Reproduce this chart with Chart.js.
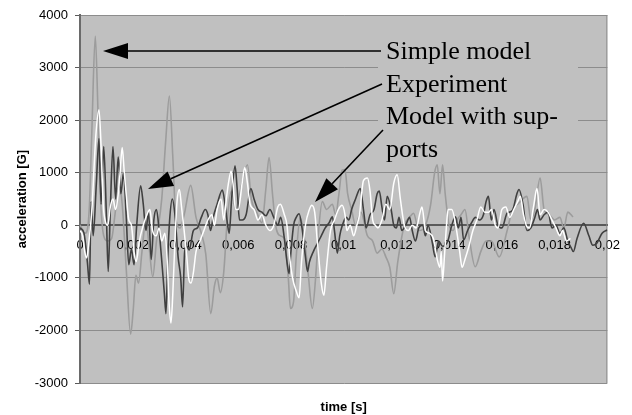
<!DOCTYPE html>
<html>
<head>
<meta charset="utf-8">
<script src="https://cdn.jsdelivr.net/npm/chart.js@4"></script>
<style>
    html, body { margin: 0; padding: 0; background: #fff; }
    #wrap { width: 632px; height: 415px; }
</style>
</head>
<body>
<div id="wrap"><canvas id="accel_chart" width="632" height="415"></canvas></div>
<script>
// time in ms, acceleration in G
const simpleT = [0, 0.2, 0.35, 0.45, 0.58, 0.68, 0.78, 0.9, 1.05, 1.2, 1.35, 1.48, 1.6, 1.75, 1.92, 2.02, 2.12, 2.22, 2.35, 2.5,
    2.62, 2.76, 2.9, 3.1, 3.25, 3.39, 3.52, 3.64, 3.8, 3.95, 4.2, 4.4, 4.6, 4.77, 4.96, 5.1, 5.2, 5.32, 5.45, 5.6,
    5.75, 5.9, 6.1, 6.35, 6.5, 6.7, 6.9, 7.05, 7.17, 7.3, 7.42, 7.6, 7.75, 7.9, 7.98, 8.1, 8.2, 8.35, 8.5, 8.65,
    8.81, 8.95, 9.05, 9.19, 9.35, 9.57, 9.7, 9.82, 9.94, 10.05, 10.15, 10.3, 10.45, 10.65, 10.9, 11.1, 11.27, 11.45, 11.6, 11.75,
    11.9, 12.05, 12.3, 12.5, 12.65, 12.85, 13.1, 13.3, 13.45, 13.55, 13.65, 13.75, 13.85, 14.0, 14.15, 14.3, 14.45, 14.6, 14.75, 14.99,
    15.2, 15.4, 15.6, 15.9, 16.2, 16.4, 16.6, 16.95, 17.1, 17.25, 17.45, 17.6, 17.8, 18.0, 18.2, 18.35, 18.5, 18.7];
const simpleV = [0, -150, 300, 1800, 3600, 2200, 500, -200, -300, -250, 300, 750, 400, -800, -2070, -1600, -950, -1100, -500, 100,
    -400, -980, -300, 500, 1600, 2460, 1300, 100, -50, 200, 760, 150, -150, -550, -1680, -1150, -1000, -1280, -900, 200,
    650, 300, 700, 1150, 500, 250, 50, 700, 1290, 600, 0, -200, -250, -1000, -1580, -1450, -600, 150, -200, -900,
    -1580, -900, -100, 450, 300, 400, 200, 600, 1050, 1060, 600, 300, 0, 250, -200, -300, -530, -450, -600, -800,
    -1300, -700, 0, 150, 230, -100, 0, 400, 1000, 1150, 600, 1150, 600, 0, -100, 100, 200, 300, -200, -790,
    -500, -300, -300, -600, -100, 300, 400, 550, 100, 300, 900, 300, 200, 100, 150, -50, 250, 160];

const expT = [0, 0.15, 0.28, 0.36, 0.42, 0.5, 0.62, 0.72, 0.8, 0.9, 1.0, 1.07, 1.15, 1.25, 1.35, 1.45, 1.55, 1.65, 1.75, 1.85,
    1.95, 2.05, 2.15, 2.3, 2.4, 2.5, 2.6, 2.7, 2.8, 2.9, 3.0, 3.2, 3.26, 3.33, 3.4, 3.5, 3.6, 3.72, 3.82, 3.89,
    3.97, 4.05, 4.14, 4.3, 4.45, 4.6, 4.75, 4.85, 4.95, 5.05, 5.2, 5.4, 5.5, 5.6, 5.66, 5.75, 5.88, 5.96, 6.05, 6.15,
    6.3, 6.48, 6.6, 6.75, 6.9, 7.05, 7.2, 7.35, 7.5, 7.61, 7.75, 7.85, 7.93, 8.0, 8.1, 8.2, 8.31, 8.42, 8.55, 8.63,
    8.7, 8.85, 9.0, 9.15, 9.3, 9.45, 9.57, 9.65, 9.76, 9.85, 9.95, 10.1, 10.2, 10.3, 10.45, 10.63, 10.75, 10.85, 11.0, 11.15,
    11.27, 11.35, 11.45, 11.55, 11.65, 11.8, 11.9, 12.0, 12.1, 12.2, 12.35, 12.5, 12.6, 12.72, 12.85, 13.0, 13.1, 13.2, 13.35, 13.47,
    13.6, 13.75, 13.95, 14.1, 14.24, 14.35, 14.45, 14.55, 14.7, 14.85, 15.0, 15.15, 15.3, 15.4, 15.49, 15.6, 15.7, 15.85, 16.0, 16.2,
    16.4, 16.57, 16.65, 16.8, 16.95, 17.1, 17.25, 17.35, 17.45, 17.6, 17.75, 17.9, 18.05, 18.2, 18.35, 18.5, 18.62, 18.71, 18.85, 19.1,
    19.3, 19.45, 19.6, 19.8, 20.0];
const expV = [-50, -150, -700, -1120, 450, -200, 800, 1650, 400, 1500, 200, -880, 300, 1500, 500, 1300, 600, 1000, 200, -750,
    -450, -750, 0, 750, 400, -100, 250, -650, 100, 300, -100, -1300, -1680, -600, 100, 500, 200, -600, -1000, -1550,
    -500, -400, -470, -100, -50, 150, 300, 200, -100, 150, 400, 670, 400, 0, -150, 500, 1130, 700, 100, 100,
    200, 700, 500, 300, 250, 180, 300, 150, 0, 150, -250, -700, -920, -500, 0, 150, 220, -50, -600, -880,
    -700, -500, -350, -200, -50, 50, 160, -100, -530, -200, 0, 150, 100, 300, 500, 700, 300, -50, 200, 300,
    600, 650, 350, 100, 550, 300, 0, -50, 150, -100, 0, 150, -100, -300, -50, 0, -200, 0, -300, -600,
    -300, -400, -300, 0, 160, -50, 150, -280, -100, 50, 150, 100, 200, 450, 550, 100, 300, 0, -50, 230,
    280, 600, 680, 400, -100, -50, 150, 300, 100, 200, 250, -50, 0, -150, -50, -300, -420, -500, -250, 40,
    -200, -380, -340, -150, -90];

const suppT = [0, 0.1, 0.18, 0.25, 0.32, 0.45, 0.6, 0.72, 0.8, 0.88, 0.95, 1.05, 1.15, 1.25, 1.35, 1.45, 1.52, 1.6, 1.68, 1.75,
    1.85, 1.95, 2.06, 2.13, 2.25, 2.4, 2.56, 2.65, 2.75, 2.89, 3.0, 3.1, 3.22, 3.3, 3.38, 3.45, 3.52, 3.6, 3.68, 3.77,
    3.85, 3.95, 4.05, 4.12, 4.21, 4.3, 4.4, 4.55, 4.7, 4.85, 5.0, 5.1, 5.2, 5.35, 5.45, 5.55, 5.63, 5.73, 5.8, 5.9,
    6.0, 6.15, 6.25, 6.35, 6.45, 6.6, 6.75, 6.9, 7.05, 7.2, 7.35, 7.5, 7.6, 7.75, 7.85, 7.95, 8.06, 8.2, 8.31, 8.4,
    8.55, 8.7, 8.79, 8.9, 9.0, 9.15, 9.25, 9.35, 9.5, 9.65, 9.8, 9.94, 10.05, 10.12, 10.25, 10.38, 10.5, 10.6, 10.75, 10.9,
    11.0, 11.1, 11.2, 11.3, 11.45, 11.6, 11.75, 11.9, 12.03, 12.15, 12.3, 12.45, 12.6, 12.75, 12.9, 12.97, 13.1, 13.25, 13.4, 13.55,
    13.65, 13.7, 13.75, 13.82, 13.9, 13.96, 14.1, 14.25, 14.4, 14.49, 14.6, 14.75, 14.9, 15.05, 15.2, 15.35, 15.5, 15.6, 15.75, 15.85,
    16.0, 16.15, 16.3, 16.45, 16.6, 16.7, 16.82, 16.95, 17.05, 17.2, 17.33, 17.45, 17.6, 17.75, 17.9, 18.05, 18.2, 18.3, 18.45, 18.6];
const suppV = [-100, -200, -500, -620, -400, 300, 1700, 2200, 1500, 400, 100, 0, 350, 500, 300, 600, 1000, 1480, 1000, 600,
    100, 0, -550, -690, -300, 0, 230, 300, -100, -200, -50, -300, -150, -600, -1500, -1860, -1300, -300, 450, 680,
    350, -100, -600, -1000, -1100, -900, -500, -300, -100, 100, 200, 0, 300, 500, 100, 500, 800, 1030, 800, 300,
    300, 800, 1100, 800, 400, 300, 100, 200, 0, -100, 0, 350, 400, 200, 0, -600, -1000, -1250, -1380, -700,
    0, 300, 380, 250, -300, -1100, -1330, -800, -100, 100, 300, 380, 200, -100, 0, -200, 0, 200, 850, 900,
    650, 100, 0, -50, 100, 400, 300, 800, 960, 500, 0, -100, 0, -50, 250, 350, -100, -150, -250, -650,
    -800, -500, -1060, -600, 0, 300, 300, 0, -500, -800, -650, -400, -100, 100, 350, 250, 250, 300, 0, -50,
    300, 350, 150, 300, 450, 550, 200, -30, -50, 350, 700, 200, 300, 250, 100, -50, -200, -100, -300, -250];

const seriesNames = ['Model with supports', 'Experiment', 'Simple model'];
const annotationLines = ['Simple model', 'Experiment', 'Model with sup-', 'ports'];

const toPoints = (ts, vs) => ts.map((t, i) => ({ x: t / 1000, y: vs[i] }));

function drawArrow(ctx, x1, y1, x2, y2, len, half) {
    const a = Math.atan2(y2 - y1, x2 - x1);
    const bx = x2 - len * Math.cos(a), by = y2 - len * Math.sin(a);
    ctx.beginPath();
    ctx.moveTo(x1, y1);
    ctx.lineTo(bx, by);
    ctx.stroke();
    ctx.beginPath();
    ctx.moveTo(x2, y2);
    ctx.lineTo(bx + half * Math.sin(a), by - half * Math.cos(a));
    ctx.lineTo(bx - half * Math.sin(a), by + half * Math.cos(a));
    ctx.closePath();
    ctx.fill();
}

const plotDecor = {
    id: 'plotDecor',
    beforeDraw(chart) {
        const { ctx, chartArea: a } = chart;
        ctx.save();
        ctx.fillStyle = '#c0c0c0';
        ctx.fillRect(a.left, a.top, a.right - a.left, a.bottom - a.top);
        ctx.restore();
    },
    beforeDatasetsDraw(chart) {
        const { ctx, chartArea: a } = chart;
        ctx.save();
        // box behind the labels hides the grid lines
        ctx.fillStyle = '#c0c0c0';
        ctx.fillRect(378, 40, 200, 124);
        ctx.strokeStyle = '#8c8c8c';
        ctx.lineWidth = 1;
        ctx.beginPath();
        ctx.moveTo(a.right - 0.5, a.top);
        ctx.lineTo(a.right - 0.5, a.bottom);
        ctx.stroke();
        ctx.restore();
    },
    afterDatasetsDraw(chart) {
        const { ctx, chartArea: a } = chart;
        ctx.save();
        ctx.strokeStyle = '#000';
        ctx.fillStyle = '#000';
        ctx.lineWidth = 1.6;
        drawArrow(ctx, 381, 51, 103, 51, 25, 8);
        drawArrow(ctx, 382, 84, 148, 189, 25, 8);
        drawArrow(ctx, 383, 130, 315, 202, 25, 8);

        ctx.font = '26px "Liberation Serif", "Times New Roman", serif';
        ctx.textBaseline = 'alphabetic';
        ctx.textAlign = 'left';
        const base = [59, 92, 124, 157];
        annotationLines.forEach((txt, i) => ctx.fillText(txt, 386, base[i]));

        ctx.font = 'bold 13px "Liberation Sans", Arial, sans-serif';
        ctx.textAlign = 'center';
        ctx.textBaseline = 'middle';
        ctx.fillText('time [s]', (a.left + a.right) / 2, 407);
        ctx.translate(22, (a.top + a.bottom) / 2);
        ctx.rotate(-Math.PI / 2);
        ctx.fillText('acceleration [G]', 0, 0);
        ctx.restore();
    }
};

Chart.defaults.font.family = '"Liberation Sans", Arial, sans-serif';
Chart.defaults.font.size = 13;
Chart.defaults.color = '#000';

const ctx = document.getElementById('accel_chart').getContext('2d');
const accel_chart = new Chart(ctx, {
    type: 'line',
    data: {
        datasets: [
            { label: seriesNames[0], data: toPoints(suppT, suppV), borderColor: '#ffffff', borderWidth: 1.5, order: 0 },
            { label: seriesNames[1], data: toPoints(expT, expV), borderColor: '#404040', borderWidth: 1.6, order: 1 },
            { label: seriesNames[2], data: toPoints(simpleT, simpleV), borderColor: '#9c9c9c', borderWidth: 1.6, order: 2 },
        ],
    },
    options: {
        responsive: false,
        animation: false,
        layout: { padding: { left: 0, right: 21, top: 15, bottom: 32 } },
        elements: { point: { radius: 0 }, line: { cubicInterpolationMode: 'monotone', fill: false } },
        plugins: { legend: { display: false }, tooltip: { enabled: false } },
        scales: {
            x: {
                type: 'linear', position: { y: 0 }, min: 0, max: 0.02,
                afterFit: s => { s.height = 0; },
                grid: { display: false, drawTicks: false },
                border: { display: true, color: '#5a5a5a', width: 2 },
                ticks: {
                    stepSize: 0.002, autoSkip: false, maxRotation: 0, padding: 12,
                    callback: v => String(+v.toFixed(4)).replace('.', ','),
                },
            },
            y: {
                type: 'linear', position: 'left', min: -3000, max: 4000,
                afterFit: s => { s.width = 80; },
                grid: { color: '#8c8c8c', lineWidth: 1, tickLength: 5, tickColor: '#5a5a5a' },
                border: { display: true, color: '#6a6a6a', width: 2 },
                ticks: { stepSize: 1000, padding: 7, callback: v => String(v) },
            },
        },
    },
    plugins: [plotDecor],
});
</script>
</body>
</html>
